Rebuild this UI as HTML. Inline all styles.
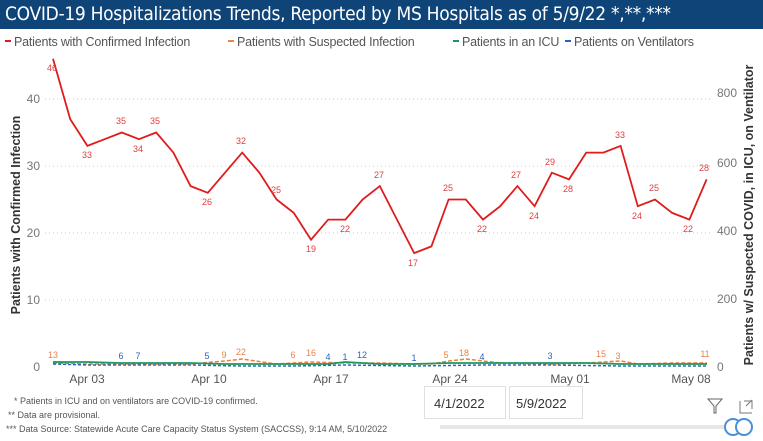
<!DOCTYPE html>
<html><head><meta charset="utf-8"><style>
html,body{margin:0;padding:0;background:#fff;width:763px;height:441px;overflow:hidden;font-family:"Liberation Sans",sans-serif}
.title{position:absolute;left:0;top:0;width:763px;height:29px;background:#0f4478;color:#fff;font-size:19px;line-height:29px;padding-left:5px;box-sizing:border-box;letter-spacing:-0.3px;font-family:"DejaVu Sans Condensed","Liberation Sans",sans-serif}
</style></head><body>
<div class="title">COVID-19 Hospitalizations Trends, Reported by MS Hospitals as of 5/9/22 *,**,***</div>
<svg width="763" height="441" style="position:absolute;left:0;top:0" font-family="Liberation Sans, sans-serif">
<g font-size="12.5" fill="#555" letter-spacing="-0.2">
<rect x="5" y="40" width="6" height="2" fill="#e01b1b"/><text x="14" y="46">Patients with Confirmed Infection</text>
<rect x="228" y="40" width="6" height="2" fill="#e8834a"/><text x="237" y="46">Patients with Suspected Infection</text>
<rect x="453" y="40" width="6" height="2" fill="#1a9a5a"/><text x="462" y="46">Patients in an ICU</text>
<rect x="565" y="40" width="6" height="2" fill="#2a66b8"/><text x="574" y="46">Patients on Ventilators</text>
</g>
<g stroke="#ccc" stroke-dasharray="1,3">
<line x1="45" y1="99" x2="712" y2="99"/><line x1="45" y1="166" x2="712" y2="166"/><line x1="45" y1="233" x2="712" y2="233"/><line x1="45" y1="300" x2="712" y2="300"/>
</g>
<g font-size="12" fill="#777" text-anchor="end">
<text x="40" y="103">40</text><text x="40" y="170">30</text><text x="40" y="237">20</text><text x="40" y="304">10</text><text x="40" y="371">0</text>
</g>
<g font-size="12" fill="#777" text-anchor="start">
<text x="717" y="97">800</text><text x="717" y="167">600</text><text x="717" y="235">400</text><text x="717" y="303">200</text><text x="717" y="371">0</text>
</g>
<text transform="translate(20,215) rotate(-90)" font-size="12.5" font-weight="bold" fill="#333" text-anchor="middle">Patients with Confirmed Infection</text>
<text transform="translate(753,215) rotate(-90)" font-size="12.5" font-weight="bold" fill="#333" text-anchor="middle">Patients w/ Suspected COVID, in ICU, on Ventilator</text>
<g font-size="12" fill="#555" text-anchor="middle">
<text x="87" y="383">Apr 03</text><text x="209" y="383">Apr 10</text><text x="331" y="383">Apr 17</text><text x="450" y="383">Apr 24</text><text x="570" y="383">May 01</text><text x="691" y="383">May 08</text>
</g>
<polyline fill="none" stroke="#f07a3a" stroke-width="1.5" stroke-dasharray="4,2" points="53,363 87,364 139,364 190,364 225,361 242,359 276,364 311,362 345,363 380,363 414,364 431,364 449,361 466,359 500,363 552,364 586,363 621,361 638,364 672,363 707,363"/>
<polyline fill="none" stroke="#1a9a5a" stroke-width="1.8" points="53,362 87,362 121,363 156,363 190,363 225,364 259,364 293,364 328,364 345,362 380,364 414,364 449,363 483,363 517,363 552,363 586,363 621,364 655,364 707,364"/>
<polyline fill="none" stroke="#2a66b8" stroke-width="1.5" stroke-dasharray="3,2" points="53,364 87,365 139,365 190,365 242,366 293,366 345,365 414,366 483,365 552,365 621,366 707,366"/>
<polyline fill="none" stroke="#e01b1b" stroke-width="1.8" points="53,58.8 70.2,119.1 87.4,145.9 104.6,139.2 121.8,132.5 139,139.2 156.2,132.5 173.4,152.6 190.6,186.1 207.8,192.8 225,172.7 242.2,152.6 259.4,172.7 276.6,199.5 293.8,212.9 311,239.7 328.2,219.6 345.4,219.6 362.6,199.5 379.8,186.1 397,219.6 414.2,253.1 431.4,246.4 448.6,199.5 465.8,199.5 483,219.6 500.2,206.2 517.4,186.1 534.6,206.2 551.8,172.7 569,179.4 586.2,152.6 603.4,152.6 620.6,145.9 637.8,206.2 655,199.5 672.2,212.9 689.4,219.6 706.6,179.4"/>
<g font-size="9" fill="#e04040" text-anchor="middle">
<text x="52" y="71">46</text><text x="87" y="158">33</text><text x="121" y="124">35</text><text x="138" y="152">34</text><text x="155" y="124">35</text><text x="207" y="205">26</text><text x="241" y="144">32</text><text x="276" y="193">25</text><text x="311" y="252">19</text><text x="345" y="232">22</text><text x="379" y="178">27</text><text x="413" y="266">17</text><text x="448" y="191">25</text><text x="482" y="232">22</text><text x="516" y="178">27</text><text x="534" y="219">24</text><text x="550" y="165">29</text><text x="568" y="192">28</text><text x="620" y="138">33</text><text x="637" y="219">24</text><text x="654" y="191">25</text><text x="688" y="232">22</text><text x="704" y="171">28</text>
</g>
<g font-size="9" fill="#e8834a" text-anchor="middle">
<text x="53" y="358">13</text><text x="224" y="358">9</text><text x="241" y="355">22</text><text x="293" y="358">6</text><text x="311" y="356">16</text><text x="446" y="358">5</text><text x="464" y="356">18</text><text x="601" y="357">15</text><text x="618" y="359">3</text><text x="705" y="357">11</text>
</g>
<g font-size="9" fill="#2a66b8" text-anchor="middle">
<text x="121" y="359">6</text><text x="138" y="359">7</text><text x="207" y="359">5</text><text x="328" y="360">4</text><text x="345" y="360">1</text><text x="362" y="358">12</text><text x="414" y="361">1</text><text x="482" y="360">4</text><text x="550" y="359">3</text>
</g>
<g font-size="9" fill="#555">
<text x="14" y="404">* Patients in ICU and on ventilators are COVID-19 confirmed.</text>
<text x="8" y="418">** Data are provisional.</text>
<text x="6" y="432">*** Data Source: Statewide Acute Care Capacity Status System (SACCSS), 9:14 AM, 5/10/2022</text>
</g>
<rect x="424.5" y="386.5" width="81" height="32" fill="#fff" stroke="#e0e0e0"/>
<rect x="509.5" y="386.5" width="73" height="32" fill="#fff" stroke="#e0e0e0"/>
<g font-size="13" fill="#333"><text x="434" y="408">4/1/2022</text><text x="516" y="408">5/9/2022</text></g>
<path d="M708,399 L722,399 L716,406 L716,413 L714,413 L714,406 Z" fill="none" stroke="#666"/>
<path d="M740,401 L740,413 L752,413 M744,401 L752,401 L752,409 M746,406 L752,400" fill="none" stroke="#777"/>
<rect x="440" y="425" width="290" height="4" fill="#e6e6e6"/>
<circle cx="733" cy="427" r="8" fill="#fff" stroke="#4a8fd8" stroke-width="2"/>
<circle cx="744" cy="427" r="8" fill="#fff" stroke="#4a8fd8" stroke-width="2"/>
</svg>
</body></html>
